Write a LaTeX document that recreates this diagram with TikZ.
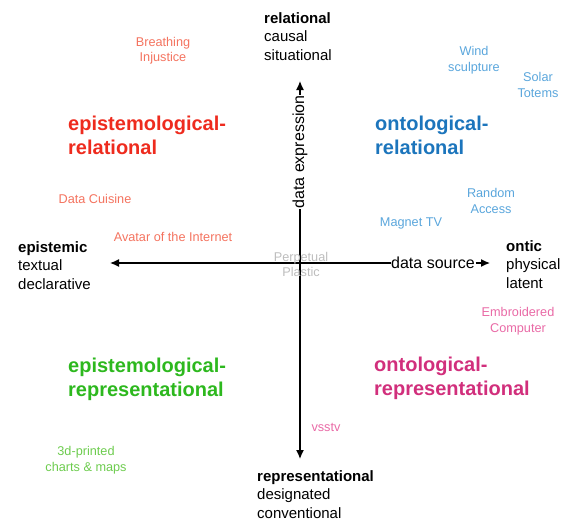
\documentclass[tikz,border=0pt]{standalone}
\usepackage{fontspec}
\setmainfont{Liberation Sans}
\usepackage{xcolor}
\usetikzlibrary{arrows.meta,positioning}

% quadrant colours
\definecolor{epirel}{HTML}{EE2B1E}
\definecolor{ontrel}{HTML}{1C75BC}
\definecolor{epirep}{HTML}{2DB81E}
\definecolor{ontrep}{HTML}{D12F7C}
% project colours
\definecolor{epirellight}{HTML}{F4735F}
\definecolor{ontrellight}{HTML}{5AA6DC}
\definecolor{epireplight}{HTML}{6DCC4E}
\definecolor{ontreplight}{HTML}{E96AA6}
\definecolor{centergray}{HTML}{BDBDBD}

\begin{document}
\begin{tikzpicture}[
    x = 1pt, y = -1pt,
    axis/.style={
        line width = 1.3pt, %line
        draw = black
      },
    tip/.style={-{Latex[length=9pt,width=8pt]}},
    pole/.style={
        align = left,
        inner sep = 0pt,
        anchor = north west,
        font = \fontsize{15}{18.5}\selectfont
      },
    quadrant/.style={
        align = left,
        inner sep = 0pt,
        anchor = north west,
        font = \fontsize{20}{24.5}\selectfont\bfseries
      },
    project/.style={
        align = center,
        inner sep = 0pt,
        font = \fontsize{12.7}{15.5}\selectfont
      },
    axislabel/.style={
        inner sep = 0.5pt,
        font = \fontsize{16}{18}\selectfont
      }]
  \useasboundingbox (0,0) rectangle (575,520);

  % axes
  \coordinate (origin) at (300,263);
  \coordinate (lefttip) at (110,263);
  \coordinate (righttip) at (490,263);
  \coordinate (toptip) at (300,81);
  \coordinate (bottomtip) at (300,459);
  \node [axislabel] (source) at (433,263) {data source};
  \node [axislabel, rotate=90] (expression) at (300,152) {data expression};
  \draw [axis, tip] (origin) -- (lefttip);
  \draw [axis, tip] (origin) -- (bottomtip);
  \draw [axis] (origin) -- (source.west);
  \draw [axis, tip] (source.east) -- (righttip);
  \draw [axis] (origin) -- (expression.west);
  \draw [axis, tip] (expression.east) -- (toptip);

  % poles
  \node [pole] (relational) at (264,12) {\textbf{relational}\\causal\\situational};
  \node [pole] (epistemic) at (18,241) {\textbf{epistemic}\\textual\\declarative};
  \node [pole] (ontic) at (506,240) {\textbf{ontic}\\physical\\latent};
  \node [pole] (representational) at (257,470) {\textbf{representational}\\designated\\conventional};

  % quadrants
  \node [quadrant, text=epirel] (epiRel) at (68,115.5) {epistemological-\\relational};
  \node [quadrant, text=ontrel] (ontRel) at (375,115.5) {ontological-\\relational};
  \node [quadrant, text=epirep] (epiRep) at (68,357.5) {epistemological-\\representational};
  \node [quadrant, text=ontrep] (ontRep) at (374,356.5) {ontological-\\representational};

  % projects
  \node [project, text=epirellight] (breathing) at (163,50.5) {Breathing\\Injustice};
  \node [project, text=epirellight] (cuisine) at (95,199) {Data Cuisine};
  \node [project, text=epirellight] (avatar) at (173,237) {Avatar of the Internet};
  \node [project, text=ontrellight] (wind) at (474,60) {Wind\\sculpture};
  \node [project, text=ontrellight] (solar) at (538,85) {Solar\\Totems};
  \node [project, text=ontrellight] (random) at (491,201) {Random\\Access};
  \node [project, text=ontrellight] (magnet) at (411,223) {Magnet TV};
  \node [project, text=ontreplight] (embroidered) at (518,321) {Embroidered\\Computer};
  \node [project, text=ontreplight] (vsstv) at (326,427) {vsstv};
  \node [project, text=epireplight] (printed) at (86,460) {3d-printed\\charts \& maps};
  \node [project, text=centergray] (plastic) at (301,264.5) {Perpetual\\Plastic};
\end{tikzpicture}
\end{document}
